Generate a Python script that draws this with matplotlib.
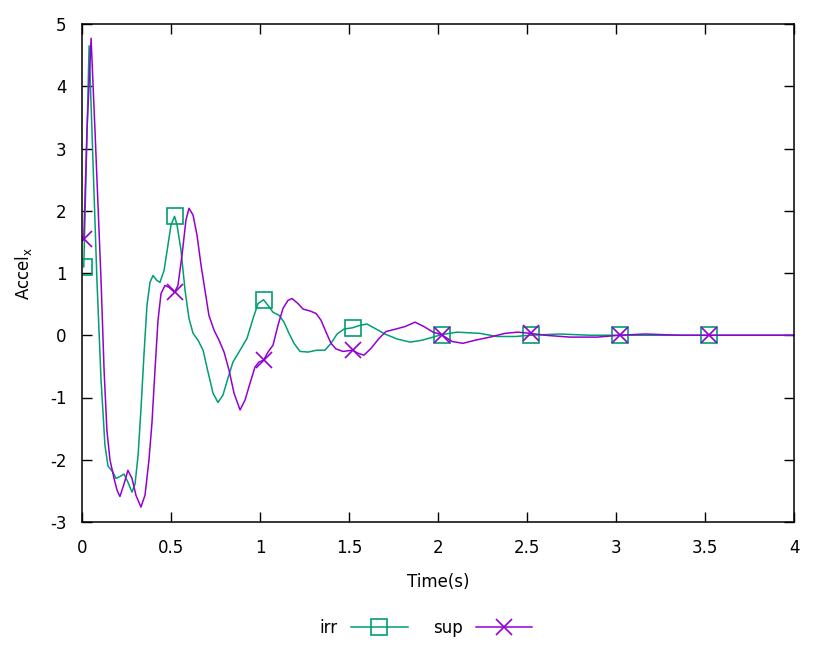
import numpy as np
import matplotlib
matplotlib.use("Agg")
import matplotlib.pyplot as plt

plt.rcParams["font.family"] = "DejaVu Sans"
plt.rcParams["axes.unicode_minus"] = False

# marker times (every 0.5 s)
t_marks = [0.01, 0.52, 1.02, 1.52, 2.02, 2.52, 3.02, 3.52]

# irr
t_irr = [0.01, 0.04, 0.084, 0.107, 0.129, 0.146, 0.174, 0.191, 0.213, 0.236, 0.258, 0.281,
         0.298, 0.315, 0.331, 0.348, 0.365, 0.382, 0.399, 0.421, 0.438, 0.461, 0.483, 0.5,
         0.52, 0.534, 0.556, 0.579, 0.601, 0.624, 0.652, 0.68, 0.708, 0.736, 0.764, 0.792,
         0.82, 0.848, 0.888, 0.927, 0.961, 0.989, 1.02, 1.045, 1.073, 1.107, 1.135, 1.163,
         1.191, 1.225, 1.27, 1.32, 1.365, 1.399, 1.433, 1.472, 1.52, 1.562, 1.601, 1.646,
         1.702, 1.77, 1.843, 1.91, 1.972, 2.02, 2.107, 2.236, 2.331, 2.433, 2.52, 2.685,
         2.854, 3.02, 3.25, 3.52, 4.0]
a_irr = [1.1, 4.65, 0.88, -0.72, -1.77, -2.1, -2.2, -2.3, -2.27, -2.23, -2.36, -2.52,
         -2.39, -1.93, -1.2, -0.32, 0.48, 0.85, 0.96, 0.88, 0.85, 1.04, 1.45, 1.77,
         1.91, 1.77, 1.37, 0.72, 0.27, 0.03, -0.08, -0.24, -0.59, -0.93, -1.08, -0.96,
         -0.69, -0.43, -0.24, -0.05, 0.27, 0.51, 0.57, 0.48, 0.37, 0.32, 0.21, 0.03,
         -0.13, -0.26, -0.27, -0.24, -0.24, -0.13, 0.02, 0.1, 0.12, 0.16, 0.18, 0.11,
         0.02, -0.06, -0.11, -0.08, -0.03, 0.01, 0.05, 0.03, -0.02, -0.02, 0.0, 0.02,
         0.0, 0.0, 0.0, 0.0, 0.0]

# sup
t_sup = [0.01, 0.028, 0.051, 0.073, 0.107, 0.124, 0.14, 0.157, 0.18, 0.197, 0.213, 0.236,
         0.258, 0.281, 0.303, 0.331, 0.354, 0.376, 0.393, 0.41, 0.427, 0.444, 0.466, 0.489,
         0.52, 0.539, 0.562, 0.584, 0.601, 0.624, 0.646, 0.669, 0.691, 0.713, 0.742, 0.77,
         0.798, 0.826, 0.854, 0.888, 0.916, 0.944, 0.972, 0.994, 1.02, 1.045, 1.073, 1.101,
         1.129, 1.157, 1.18, 1.213, 1.242, 1.281, 1.315, 1.343, 1.371, 1.399, 1.427, 1.466,
         1.52, 1.551, 1.584, 1.624, 1.669, 1.708, 1.764, 1.815, 1.871, 1.921, 1.972, 2.02,
         2.079, 2.14, 2.208, 2.292, 2.376, 2.449, 2.52, 2.601, 2.742, 2.893, 3.02, 3.163,
         3.36, 3.52, 4.0]
a_sup = [1.54, 3.29, 4.77, 3.29, 0.88, -0.56, -1.53, -2.0, -2.3, -2.49, -2.59, -2.39,
         -2.17, -2.3, -2.57, -2.76, -2.57, -2.01, -1.41, -0.56, 0.24, 0.67, 0.8, 0.77,
         0.69, 0.8, 1.29, 1.85, 2.04, 1.93, 1.61, 1.12, 0.72, 0.32, 0.08, -0.08,
         -0.27, -0.56, -0.93, -1.2, -1.04, -0.77, -0.51, -0.43, -0.4, -0.27, -0.16, 0.16,
         0.43, 0.56, 0.59, 0.51, 0.42, 0.39, 0.35, 0.24, 0.05, -0.13, -0.22, -0.26,
         -0.24, -0.29, -0.32, -0.21, -0.05, 0.06, 0.1, 0.14, 0.21, 0.14, 0.05, 0.01,
         -0.1, -0.13, -0.08, -0.03, 0.03, 0.05, 0.03, 0.0, -0.03, -0.03, 0.0, 0.02,
         0.0, 0.0, 0.0]

green = "#009e73"
purple = "#9400d3"

fig = plt.figure(figsize=(8.3, 6.69), dpi=100)
ax = fig.add_axes([82 / 830, 147 / 669, 712 / 830, 498 / 669])

mk_irr = [i for i, t in enumerate(t_irr) if t in t_marks]
mk_sup = [i for i, t in enumerate(t_sup) if t in t_marks]
ax.plot(t_irr, a_irr, color=green, lw=1.1, marker="s", markersize=11, markerfacecolor="none",
        markeredgewidth=1.2, markevery=mk_irr, label="irr")
ax.plot(t_sup, a_sup, color=purple, lw=1.1, marker="x", markersize=12,
        markeredgewidth=1.2, markevery=mk_sup, label="sup")

ax.set_xlim(0, 4)
ax.set_ylim(-3, 5)
xt = np.arange(0, 4.01, 0.5)
ax.set_xticks(xt)
ax.set_xticklabels([f"{v:g}" for v in xt])
ax.set_yticks(range(-3, 6))
ax.tick_params(direction="in", length=7, width=1, top=True, right=True, labelsize=12)
ax.tick_params(axis="x", pad=12)
ax.tick_params(axis="y", pad=11)
for s in ax.spines.values():
    s.set_linewidth(1.1)

ax.set_xlabel("Time(s)", fontsize=12, labelpad=12)
ax.set_ylabel("Accel$_{\\mathregular{x}}$", fontsize=12, labelpad=12)

ax.legend(loc="upper center", bbox_to_anchor=(0.483, -0.165), ncol=2, frameon=False,
          markerfirst=False, fontsize=12, handlelength=3.4, columnspacing=1.5)

fig.savefig("out.png", dpi=100)
